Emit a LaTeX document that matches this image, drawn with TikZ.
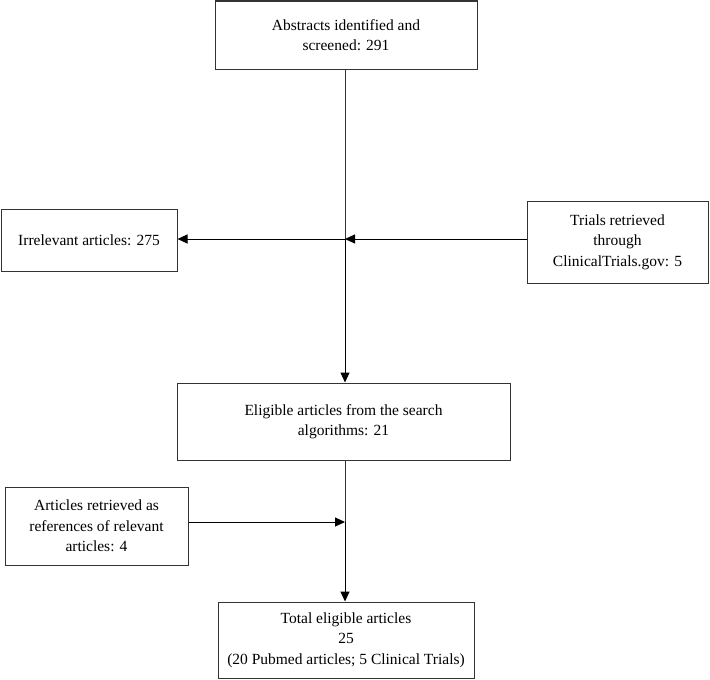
\documentclass[tikz,border=0pt]{standalone}
\usepackage{fontspec}
\setmainfont{Liberation Serif}
\usetikzlibrary{arrows.meta,calc}
\begin{document}
\begin{tikzpicture}[x=1pt,y=-1pt,
  box/.style={draw=black!80, line width=1pt, align=center, inner sep=0pt,
    font=\fontsize{15.5}{20.5}\selectfont},
  arr/.style={draw=black, line width=1pt, -{Triangle[length=10pt,width=9pt]}},
  ln/.style={draw=black!80, line width=1pt}]
\useasboundingbox (0,0) rectangle (710,680);
\node[box, minimum width=262pt, minimum height=68pt] (top) at (346,35) {Abstracts identified and\\screened: 291};
\node[box, minimum width=176pt, minimum height=62pt] (irr) at (89,240) {Irrelevant articles: 275};
\node[box, minimum width=181pt, minimum height=82pt] (trials) at (617.5,242) {Trials retrieved\\through\\ClinicalTrials.gov: 5};
\node[box, minimum width=333pt, minimum height=77pt] (elig) at (343.5,421.5) {Eligible articles from the search\\algorithms: 21};
\node[box, minimum width=183pt, minimum height=78pt] (refs) at (96.5,526) {Articles retrieved as\\references of relevant\\articles: 4};
\node[box, minimum width=256pt, minimum height=76pt] (total) at (346,640) {Total eligible articles\\25\\(20 Pubmed articles; 5 Clinical Trials)};
\coordinate (j) at (345,239);
\coordinate (k) at (345,522);
\draw[ln] (top.south -| j) -- (j);
\draw[arr] (j) -- (elig.north -| j);
\draw[arr] (j) -- (irr.east |- j);
\draw[arr] (trials.west |- j) -- (j);
\draw[ln] (elig.south -| k) -- (k);
\draw[arr] (k) -- (total.north -| k);
\draw[arr] (refs.east |- k) -- (k);
\end{tikzpicture}
\end{document}
